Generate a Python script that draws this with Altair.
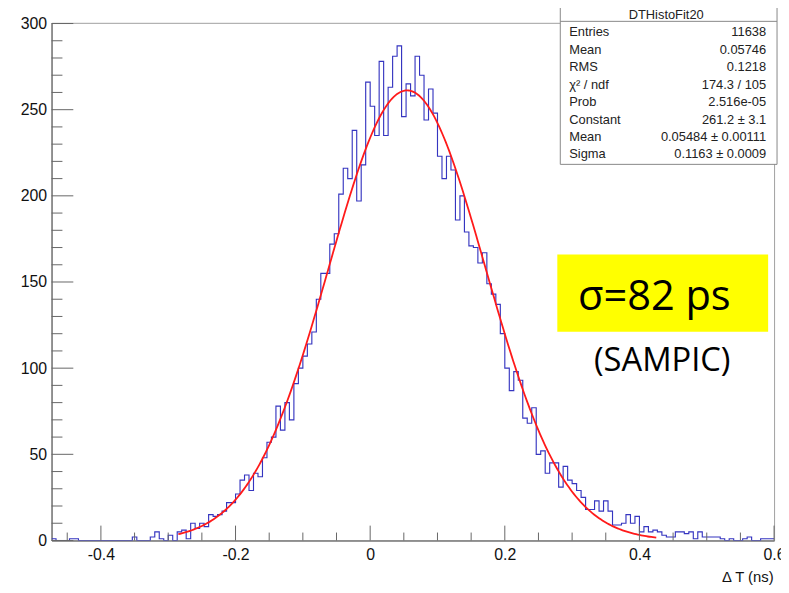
import altair as alt
import pandas as pd

# ---- histogram contents, one value per bin ----
COUNTS = [
    1,
    0, 0, 0, 1, 1, 0, 0, 0, 0, 0,
    0, 0, 0, 0, 0, 0, 0, 2, 0, 0,
    0, 2, 5, 1, 0, 3, 0, 5, 6, 1,
    10, 7, 10, 8, 15, 14, 15, 17, 22, 22,
    27, 35, 38, 29, 39, 37, 48, 57, 60, 78,
    64, 80, 70, 91, 100, 107, 114, 121, 140, 155,
    155, 172, 178, 201, 216, 210, 238, 197, 218, 266,
    252, 235, 278, 235, 263, 281, 287, 246, 265, 258,
    281, 270, 244, 262, 248, 223, 210, 223, 215, 186,
    200, 179, 171, 170, 161, 167, 149, 143, 137, 120,
    100, 87, 98, 93, 71, 68, 77, 50, 52, 39,
    45, 45, 31, 43, 35, 33, 29, 25, 18, 18,
    23, 17, 23, 17, 9, 9, 10, 15, 10, 14,
    5, 8, 5, 6, 5, 3, 2, 2, 5, 5,
    4, 5, 1, 5, 2, 2, 2, 2, 1, 0,
    1, 0, 0, 1, 2, 0, 0, 1, 1, 1,
]
X_MIN = -0.4733
X_MAX = 0.6
Y_MAX = 300.4

# fit parameters (from the stats box) and fit range
FIT_CONST = 261.2
FIT_MEAN = 0.05484
FIT_SIGMA = 0.1163
FIT_RANGE = [-0.285, 0.425]

# axis ticks
X_MAJOR = [-0.4, -0.2, 0.0, 0.2, 0.4, 0.6]
X_MINOR = [-0.45, -0.35, -0.3, -0.25, -0.15, -0.1, -0.05, 0.05, 0.1, 0.15,
           0.25, 0.3, 0.35, 0.45, 0.5, 0.55]
Y_MAJOR = [0, 50, 100, 150, 200, 250, 300]
Y_MINOR = [10, 20, 30, 40, 60, 70, 80, 90, 110, 120, 130, 140, 160, 170, 180,
           190, 210, 220, 230, 240, 260, 270, 280, 290]

# stats box
STATS_TITLE = "DTHistoFit20"
STATS_LABELS = ["Entries", "Mean", "RMS", "χ² / ndf", "Prob", "Constant", "Mean", "Sigma"]
STATS_VALUES = ["11638", "0.05746", "0.1218", "174.3 / 105", "2.516e-05",
                "261.2 ± 3.1", "0.05484 ± 0.00111", "0.1163 ± 0.0009"]

NOTE_MAIN = "σ=82 ps"
NOTE_SUB = "(SAMPIC)"

W, H = 730, 523
FONT = "Liberation Sans"

n = len(COUNTS)
bw = (X_MAX - X_MIN) / n
edges = [X_MIN + i * bw for i in range(n + 1)]
hist = pd.DataFrame({"x": edges, "y": COUNTS + [COUNTS[-1]]})

xs = alt.Scale(domain=[X_MIN, X_MAX], nice=False, zero=False)
ys = alt.Scale(domain=[0, Y_MAX], nice=False)

X_AXIS = alt.Axis(values=X_MAJOR, labelExpr="toString(datum.value)",
                  title="Δ T (ns)", titleFont=FONT, titleFontSize=15,
                  titleFontWeight="normal", titleColor="#111",
                  titleX=W - 1, titleY=41, titleAlign="right",
                  titleBaseline="alphabetic", titleAnchor="end",
                  labelFlush=False, labelOverlap=False, labelPadding=6,
                  ticks=False, grid=False, domainColor="#555",
                  labelFont=FONT, labelFontSize=16, labelColor="#111")
Y_AXIS = alt.Axis(values=Y_MAJOR, title=None, labelPadding=5,
                  labelOverlap=False, labelFlush=False,
                  ticks=False, grid=False, domainColor="#555",
                  labelFont=FONT, labelFontSize=16, labelColor="#111")

hist_layer = alt.Chart(hist).mark_line(
    interpolate="step-after", color="#3535c0", strokeWidth=1.15, clip=True
).encode(
    x=alt.X("x:Q", scale=xs, axis=X_AXIS),
    y=alt.Y("y:Q", scale=ys, axis=Y_AXIS),
)

fit_layer = alt.Chart(
    alt.sequence(start=FIT_RANGE[0], stop=FIT_RANGE[1] + 0.0001, step=0.0025, as_="x")
).transform_calculate(
    y=f"{FIT_CONST}*exp(-0.5*pow((datum.x-{FIT_MEAN})/{FIT_SIGMA},2))"
).mark_line(color="#ff1a1a", strokeWidth=1.8).encode(
    x=alt.X("x:Q", scale=xs, axis=X_AXIS),
    y=alt.Y("y:Q", scale=ys, axis=Y_AXIS),
)

TICK_COLOR = "#666"
xmaj = alt.Chart(pd.DataFrame({"x": X_MAJOR})).mark_rule(color=TICK_COLOR, strokeWidth=1).encode(
    x=alt.X("x:Q", scale=xs, axis=X_AXIS), y=alt.value(H), y2=alt.value(H - 15))
xmin = alt.Chart(pd.DataFrame({"x": X_MINOR})).mark_rule(color=TICK_COLOR, strokeWidth=1).encode(
    x=alt.X("x:Q", scale=xs, axis=X_AXIS), y=alt.value(H), y2=alt.value(H - 8))
ymaj = alt.Chart(pd.DataFrame({"y": Y_MAJOR})).mark_rule(color=TICK_COLOR, strokeWidth=1).encode(
    y=alt.Y("y:Q", scale=ys, axis=Y_AXIS), x=alt.value(0), x2=alt.value(22))
ymin = alt.Chart(pd.DataFrame({"y": Y_MINOR})).mark_rule(color=TICK_COLOR, strokeWidth=1).encode(
    y=alt.Y("y:Q", scale=ys, axis=Y_AXIS), x=alt.value(0), x2=alt.value(11))

one = pd.DataFrame({"a": [0]})

# stats box
box = alt.Chart(one).mark_rect(fill="white", stroke="#888", strokeWidth=1).encode(
    x=alt.value(514), x2=alt.value(733), y=alt.value(-20), y2=alt.value(143))
sep = alt.Chart(one).mark_rule(color="#888", strokeWidth=1).encode(
    x=alt.value(514), x2=alt.value(733), y=alt.value(-1.5))
title_t = alt.Chart(one).mark_text(
    text=STATS_TITLE, font=FONT, fontSize=13, color="#222", align="center", baseline="middle"
).encode(x=alt.value(621), y=alt.value(-8))
lab_t = alt.Chart(one).mark_text(
    text=STATS_LABELS, font=FONT, fontSize=13, color="#222", align="left",
    baseline="alphabetic", lineHeight=17.6
).encode(x=alt.value(523), y=alt.value(13.8))
val_t = alt.Chart(one).mark_text(
    text=STATS_VALUES, font=FONT, fontSize=13, color="#222", align="right",
    baseline="alphabetic", lineHeight=17.6
).encode(x=alt.value(722), y=alt.value(13.8))

# annotation
ybox = alt.Chart(one).mark_rect(color="#ffff00").encode(
    x=alt.value(511), x2=alt.value(724), y=alt.value(234), y2=alt.value(312))
note1 = alt.Chart(one).mark_text(
    text=NOTE_MAIN, font="Open Sans", fontSize=42, color="black", align="center",
    baseline="alphabetic").encode(x=alt.value(609), y=alt.value(290))
note2 = alt.Chart(one).mark_text(
    text=NOTE_SUB, font="Open Sans", fontSize=33, color="black", align="center",
    baseline="alphabetic").encode(x=alt.value(617), y=alt.value(352))

chart = alt.layer(
    hist_layer, fit_layer, xmaj, xmin, ymaj, ymin,
    ybox, note1, note2, box, sep, title_t, lab_t, val_t
).properties(
    width=W, height=H,
    autosize=alt.AutoSizeParams(type="none"),
    padding={"left": 44, "top": 12, "right": 7, "bottom": 42},
).configure_view(
    stroke="#a0a0a0", strokeWidth=1
)

chart.save("out.html", embed_options={"renderer": "svg", "actions": False})
